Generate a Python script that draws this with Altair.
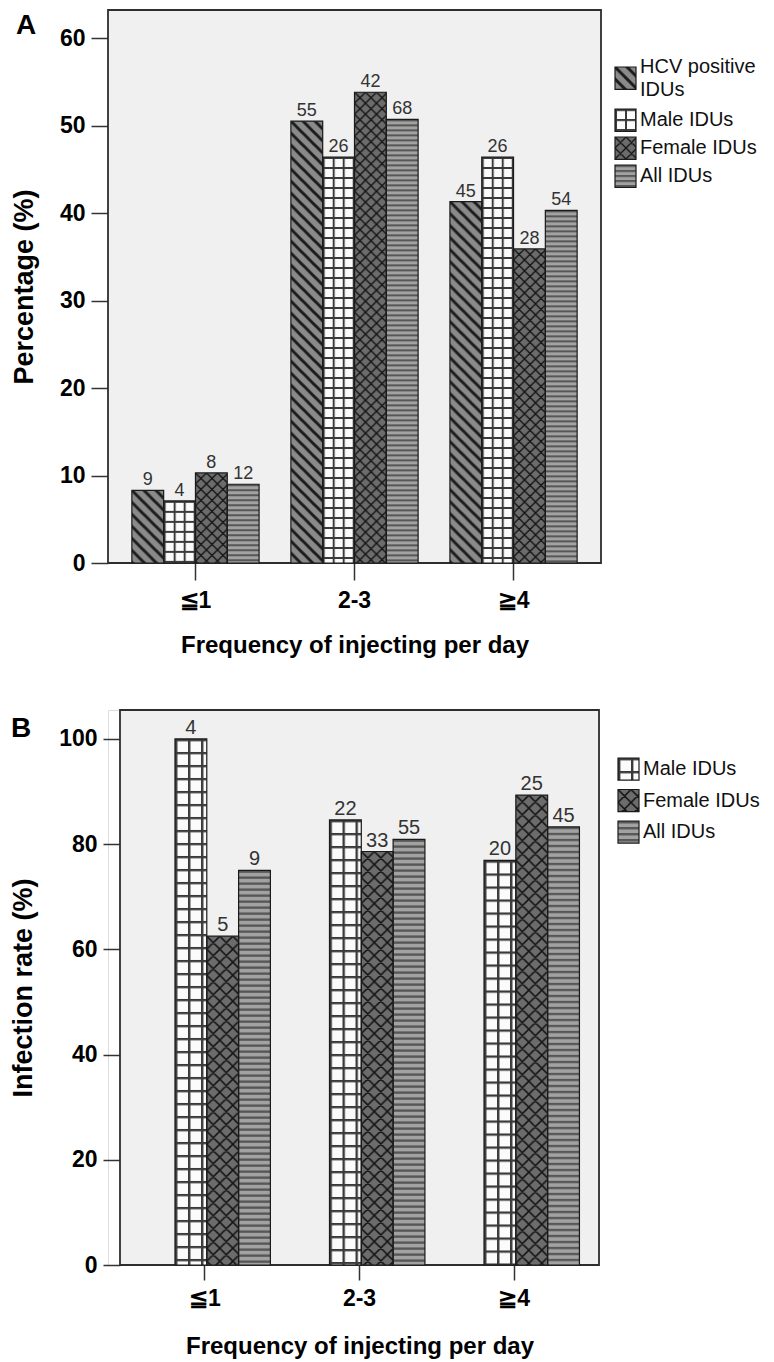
import altair as alt
import pandas as pd
from urllib.parse import quote

# ---------------- data ----------------
categories = ["≦1", "2-3", "≧4"]

series_a = ["HCV positive IDUs", "Male IDUs", "Female IDUs", "All IDUs"]
legend_a = ["HCV positive\nIDUs", "Male IDUs", "Female IDUs", "All IDUs"]
pct_hcv = [8.3, 50.5, 41.3]
pct_male = [7.1, 46.4, 46.4]
pct_female = [10.3, 53.8, 35.9]
pct_all = [9.0, 50.7, 40.3]
n_hcv = [9, 55, 45]
n_male = [4, 26, 26]
n_female = [8, 42, 28]
n_all = [12, 68, 54]

series_b = ["Male IDUs", "Female IDUs", "All IDUs"]
legend_b = ["Male IDUs", "Female IDUs", "All IDUs"]
rate_male = [100.0, 84.6, 76.9]
rate_female = [62.5, 78.6, 89.3]
rate_all = [75.0, 80.9, 83.3]
nb_male = [4, 22, 20]
nb_female = [5, 33, 25]
nb_all = [9, 55, 45]

FONT = "Liberation Sans"


# ---------------- pattern fills (SVG data URLs) ----------------
def svg_url(w, h, body):
    svg = ("<svg xmlns='http://www.w3.org/2000/svg' width='100%' height='100%'>"
           f"<defs><pattern id='p' patternUnits='userSpaceOnUse' width='{w}' height='{h}'>{body}</pattern></defs>"
           "<rect width='100%' height='100%' fill='url(#p)'/></svg>")
    return "data:image/svg+xml;charset=utf-8," + quote(svg)


def pat_diag(s, lw):
    body = (f"<rect width='{s}' height='{s}' fill='#8a8a8a'/>"
            f"<path d='M-1,-1 L{s+1},{s+1} M-1,{s-1} L1,{s+1} M{s-1},-1 L{s+1},1' "
            f"stroke='#1c1c1c' stroke-width='{lw}'/>")
    return svg_url(s, s, body)


def pat_grid(s, lw):
    body = (f"<rect width='{s}' height='{s}' fill='#fbfbfb'/>"
            f"<path d='M0,{lw/2} H{s} M{lw/2},0 V{s}' stroke='#3a3a3a' stroke-width='{lw}'/>")
    return svg_url(s, s, body)


def pat_cross(s, lw):
    body = (f"<rect width='{s}' height='{s}' fill='#6c6c6c'/>"
            f"<path d='M-1,-1 L{s+1},{s+1} M-1,{s-1} L1,{s+1} M{s-1},-1 L{s+1},1 "
            f"M-1,{s+1} L{s+1},-1 M-1,1 L1,-1 M{s-1},{s+1} L{s+1},{s-1}' "
            f"stroke='#141414' stroke-width='{lw}'/>")
    return svg_url(s, s, body)


def pat_stripe(h, dark):
    body = (f"<rect width='10' height='{h}' fill='#a2a2a2'/>"
            f"<rect width='10' height='{dark}' fill='#575757'/>")
    return svg_url(10, h, body)


def panel(letter, series, labels, values, counts, urls, base_colors, W, H, x0,
          ymax, yticks, ytitle, ytitle_x, tick_len, count_size, xlabel_pad,
          xtitle_y, leg_x, leg_dom, leg_range, sw_h, line_units, letter_x, letter_y):
    rows = []
    for j, s in enumerate(series):
        for i, c in enumerate(categories):
            rows.append({"cat": c, "series": s, "value": values[j][i],
                         "count": counts[j][i], "url": urls[j]})
    df = pd.DataFrame(rows)

    xaxis = alt.Axis(domain=False, ticks=True, tickSize=tick_len, tickWidth=1.5,
                     tickColor="#333333", labelFontSize=23, labelFontWeight="bold",
                     labelPadding=xlabel_pad, labelAngle=0, grid=False,
                     titleY=xtitle_y, titleBaseline="middle", titleFontSize=24,
                     titleFontWeight="bold")
    xenc = alt.X("cat:N", sort=categories, title="Frequency of injecting per day",
                 scale=alt.Scale(domain=categories, paddingInner=0.2,
                                 paddingOuter=0.15, range=[x0, W]),
                 axis=xaxis)
    xoff = alt.XOffset("series:N", sort=series,
                       scale=alt.Scale(domain=series, paddingInner=0, paddingOuter=0))
    yscale = alt.Scale(domain=[0, ymax], nice=False, zero=True)
    yaxis = alt.Axis(values=yticks, domain=False, tickSize=17, tickWidth=1.5,
                     tickColor="#333333", labelFontSize=23, labelFontWeight="bold",
                     labelPadding=6, grid=False, offset=-x0,
                     titleX=ytitle_x, titleY=H / 2, titleAngle=270,
                     titleBaseline="middle", titleAlign="center",
                     titleFontSize=27, titleFontWeight="bold")
    y_main = alt.Y("value:Q", scale=yscale, axis=yaxis, title=ytitle)
    y_plain = alt.Y("value:Q", scale=yscale, axis=None)

    bg = alt.Chart(pd.DataFrame({"k": [0]})).mark_rect(
        fill="#f0f0f0", stroke="#2e2e2e", strokeWidth=1.8
    ).encode(x=alt.value(x0), x2=alt.value(W), y=alt.value(0), y2=alt.value(H))

    base = alt.Chart(df)
    bars = base.mark_bar().encode(
        x=xenc, xOffset=xoff, y=y_main,
        fill=alt.Fill("series:N", scale=alt.Scale(domain=series, range=base_colors),
                      legend=None))
    imgs = base.mark_image(aspect=False).encode(
        x=xenc, xOffset=xoff, y=y_plain, url="url:N")
    outline = base.mark_bar(fillOpacity=0, stroke="#1a1a1a", strokeWidth=1.2).encode(
        x=xenc, xOffset=xoff, y=y_plain)
    txt = base.mark_text(baseline="bottom", dy=-1, fontSize=count_size,
                         font=FONT, color="#333333").encode(
        x=xenc, xOffset=xoff, y=y_plain, text="count:Q")

    # custom legend with pattern swatches
    lines = [lab.count("\n") + 1 for lab in labels]
    slots, acc = [], 0.0
    for n in lines:
        slots.append(acc)
        acc += (n + 1) / 2
    ldf = pd.DataFrame({"series": series, "label": labels, "url": urls,
                        "slot": slots, "extra": [n - 1 for n in lines]})
    lscale = alt.Scale(domain=leg_dom, range=leg_range, nice=False, zero=False)
    lbase = alt.Chart(ldf).transform_calculate(
        slot2=f"datum.slot + {sw_h}",
        slotc=f"datum.slot + {sw_h / 2} - datum.extra * {line_units / 2}")
    leg_img = lbase.mark_image(aspect=False).encode(
        x=alt.value(leg_x), x2=alt.value(leg_x + 21),
        y=alt.Y("slot:Q", scale=lscale, axis=None), y2="slot2:Q", url="url:N")
    leg_box = lbase.mark_rect(fillOpacity=0, stroke="#1a1a1a", strokeWidth=1.2).encode(
        x=alt.value(leg_x), x2=alt.value(leg_x + 21),
        y=alt.Y("slot:Q", scale=lscale, axis=None), y2="slot2:Q")
    leg_txt = lbase.mark_text(align="left", baseline="middle", fontSize=20,
                              lineBreak="\n", lineHeight=23, font=FONT,
                              color="#111111").encode(
        x=alt.value(leg_x + 25), y=alt.Y("slotc:Q", scale=lscale, axis=None),
        text="label:N")

    let = alt.Chart(pd.DataFrame({"letter": [letter]})).mark_text(
        align="left", baseline="top", fontSize=28, fontWeight="bold",
        font=FONT, color="#000000"
    ).encode(x=alt.value(letter_x), y=alt.value(letter_y), text="letter:N")

    return alt.layer(bg, bars, imgs, outline, txt, leg_img, leg_box, leg_txt, let
                     ).resolve_scale(y="independent").properties(width=W, height=H)


urls_a = [pat_diag(12, 3.0), pat_grid(10, 2), pat_cross(11, 1.4), pat_stripe(5, 2)]
urls_b = [pat_grid(13, 2.4), pat_cross(13, 1.5), pat_stripe(6, 2.4)]

chart_a = panel(
    "A", series_a, legend_a,
    [pct_hcv, pct_male, pct_female, pct_all], [n_hcv, n_male, n_female, n_all],
    urls_a, ["#8a8a8a", "#fbfbfb", "#6c6c6c", "#a2a2a2"],
    W=493, H=553, x0=0, ymax=63.2, yticks=[0, 10, 20, 30, 40, 50, 60],
    ytitle="Percentage (%)", ytitle_x=-84, tick_len=17, count_size=18,
    xlabel_pad=9, xtitle_y=82, leg_x=507, leg_dom=[0, 4], leg_range=[57, 169],
    sw_h=0.8, line_units=23 / 28, letter_x=-92, letter_y=2)

chart_b = panel(
    "B", series_b, legend_b,
    [rate_male, rate_female, rate_all], [nb_male, nb_female, nb_all],
    urls_b, ["#fbfbfb", "#6c6c6c", "#a2a2a2"],
    W=491, H=555, x0=12, ymax=105.5, yticks=[0, 20, 40, 60, 80, 100],
    ytitle="Infection rate (%)", ytitle_x=-97, tick_len=15, count_size=20,
    xlabel_pad=7, xtitle_y=81, leg_x=510, leg_dom=[0, 3], leg_range=[48, 142.5],
    sw_h=0.7, line_units=23 / 31.5, letter_x=-97, letter_y=5)

chart = alt.vconcat(chart_a, chart_b, spacing=50).configure_view(
    stroke="transparent"
).configure_axis(
    labelFont=FONT, titleFont=FONT, labelColor="#1a1a1a", titleColor="#111111"
).configure(background="#ffffff").properties(
    padding={"left": 0, "top": 0, "right": 0, "bottom": 0}
)

chart.save("out.html", embed_options={"renderer": "svg", "actions": False})
